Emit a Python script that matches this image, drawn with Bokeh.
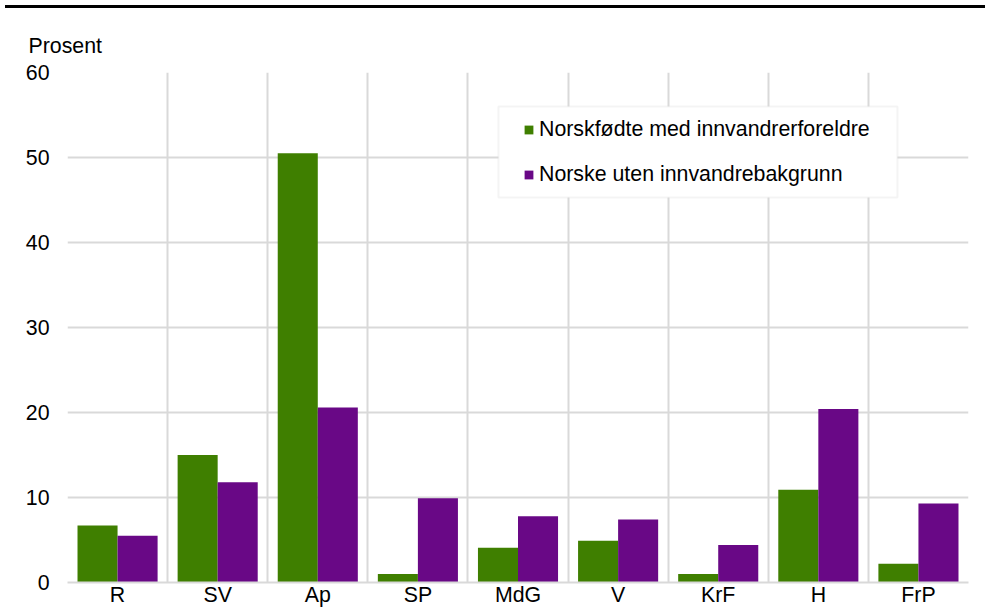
from bokeh.plotting import figure
from bokeh.models import (Range1d, FixedTicker, Legend, LegendItem, BoxAnnotation,
                          Div, ColumnDataSource)
from bokeh.layouts import column
from bokeh.embed import file_html
from bokeh.resources import INLINE

categories = ["R", "SV", "Ap", "SP", "MdG", "V", "KrF", "H", "FrP"]
norskfodte = [6.7, 15.0, 50.5, 1.0, 4.1, 4.9, 1.0, 10.9, 2.2]
norske = [5.5, 11.8, 20.6, 9.9, 7.8, 7.4, 4.4, 20.4, 9.3]
series_names = ["Norskfødte med innvandrerforeldre", "Norske uten innvandrebakgrunn"]
y_ticks = [0, 10, 20, 30, 40, 50, 60]

GREEN = "#3f7f00"
PURPLE = "#690886"
GRID = "#d9d9d9"
FONT = "Liberation Sans"
FS = "16pt"

n = len(categories)
centers = [i + 0.5 for i in range(n)]

p = figure(frame_width=901, frame_height=510,
           x_range=Range1d(0, n), y_range=Range1d(0, 60),
           output_backend="svg", toolbar_location=None,
           min_border_left=67, min_border_right=17, min_border_top=59, min_border_bottom=0)
p.outline_line_color = None
p.background_fill_color = "white"

# unit label as title
p.title.text = "Prosent"
p.title.text_font = FONT
p.title.text_font_size = FS
p.title.text_font_style = "normal"
p.title.text_color = "black"
p.title.align = "left"
p.title.vertical_align = "top"
p.title.offset = -39
p.title.standoff = 26

src1 = ColumnDataSource(dict(x=[c - 0.2 for c in centers], top=norskfodte))
src2 = ColumnDataSource(dict(x=[c + 0.2 for c in centers], top=norske))
r1 = p.vbar(x="x", top="top", width=0.4, source=src1, fill_color=GREEN, line_color=None)
r2 = p.vbar(x="x", top="top", width=0.4, source=src2, fill_color=PURPLE, line_color=None)

# grids
p.xgrid.ticker = FixedTicker(ticks=list(range(n + 1)))
p.ygrid.ticker = FixedTicker(ticks=y_ticks)
for g in (p.xgrid, p.ygrid):
    g.grid_line_color = GRID
    g.grid_line_width = 2

# x axis
p.xaxis.ticker = FixedTicker(ticks=centers)
p.xaxis.major_label_overrides = {c: lab for c, lab in zip(centers, categories)}
p.xaxis.axis_line_color = GRID
p.xaxis.axis_line_width = 2
p.xaxis.major_tick_line_color = None
p.xaxis.minor_tick_line_color = None
p.xaxis.major_tick_in = 0
p.xaxis.major_tick_out = 0
p.xaxis.major_label_standoff = 0
p.xaxis.major_label_text_font = FONT
p.xaxis.major_label_text_font_size = FS
p.xaxis.major_label_text_color = "black"

# y axis
p.yaxis.ticker = FixedTicker(ticks=y_ticks)
p.yaxis.axis_line_color = None
p.yaxis.major_tick_line_color = None
p.yaxis.minor_tick_line_color = None
p.yaxis.major_label_standoff = 12
p.yaxis.major_label_text_font = FONT
p.yaxis.major_label_text_font_size = FS
p.yaxis.major_label_text_color = "black"

# legend box
p.add_layout(BoxAnnotation(left=4.305, right=8.29, top=56.0, bottom=45.3,
                           fill_color="white", fill_alpha=1.0,
                           line_color=GRID, line_width=2, level="annotation"))

legend = Legend(items=[LegendItem(label=series_names[0], renderers=[r1]),
                       LegendItem(label=series_names[1], renderers=[r2])],
                location=(456, 395), padding=0, spacing=20,
                glyph_width=11, glyph_height=11, label_standoff=5, label_height=25,
                label_text_font=FONT, label_text_font_size=FS, label_text_color="black",
                border_line_color=None, background_fill_alpha=0)
p.add_layout(legend)

top_line = Div(width=985, height=3, styles={"background-color": "black"})
layout = column(top_line, p, spacing=0)

open("out.html", "w").write(file_html(layout, INLINE))
